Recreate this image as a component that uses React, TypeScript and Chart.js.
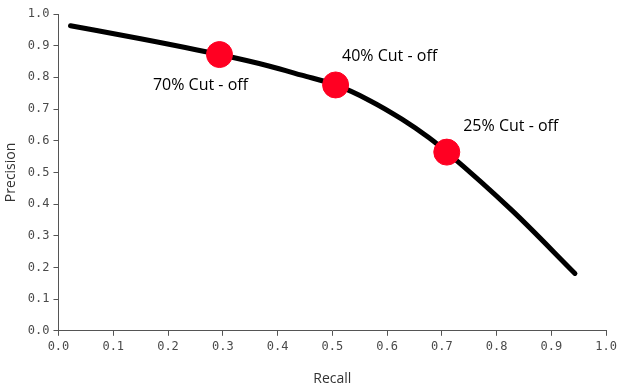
import React, { useEffect, useRef } from "react";
import { Chart, registerables } from "chart.js";

Chart.register(...registerables);

const curveRecall = [0.022, 0.15, 0.294, 0.384, 0.444, 0.506, 0.567, 0.627, 0.676, 0.709, 0.828, 0.943];
const curvePrecision = [0.963, 0.922, 0.872, 0.836, 0.807, 0.776, 0.728, 0.668, 0.61, 0.564, 0.38, 0.181];

const cutRecall = [0.294, 0.506, 0.709];
const cutPrecision = [0.872, 0.776, 0.564];
const cutLabels = ["70% Cut - off", "40% Cut - off", "25% Cut - off"];
const tickValues = [0, 0.1, 0.2, 0.3, 0.4, 0.5, 0.6, 0.7, 0.8, 0.9, 1.0];

const labelOffsets = [
  [-19, 31],
  [54, -29],
  [64, -26],
];

const cutLabelPlugin = {
  id: "cutLabels",
  afterDatasetsDraw(chart: any) {
    const { ctx, scales } = chart;
    ctx.save();
    ctx.font = '16px "Open Sans", "Noto Sans", sans-serif';
    ctx.fillStyle = "#000";
    ctx.textAlign = "center";
    ctx.textBaseline = "middle";
    cutLabels.forEach((t, i) => {
      const px = scales.x.getPixelForValue(cutRecall[i]);
      const py = scales.y.getPixelForValue(cutPrecision[i]);
      ctx.fillText(t, px + labelOffsets[i][0], py + labelOffsets[i][1]);
    });
    ctx.restore();
  },
};

export default function App() {
  const ref = useRef<HTMLCanvasElement>(null);
  useEffect(() => {
    const tickFont = { family: '"DejaVu Sans Mono", monospace', size: 12 };
    const chart = new Chart(ref.current!, {
      type: "scatter",
      data: {
        datasets: [
          {
            type: "scatter",
            data: cutRecall.map((x, i) => ({ x, y: cutPrecision[i] })),
            backgroundColor: "#ff0022",
            borderColor: "#ff0022",
            pointRadius: 13,
            pointHoverRadius: 13,
            order: 0,
          },
          {
            type: "line",
            data: curveRecall.map((x, i) => ({ x, y: curvePrecision[i] })),
            borderColor: "#000",
            borderWidth: 5,
            borderCapStyle: "round",
            cubicInterpolationMode: "monotone",
            pointRadius: 0,
            fill: false,
            order: 1,
          } as any,
        ],
      },
      options: {
        animation: false,
        responsive: true,
        maintainAspectRatio: false,
        layout: { padding: { top: 4, right: 9, left: 3, bottom: 5 } },
        plugins: { legend: { display: false }, tooltip: { enabled: false } },
        scales: {
          x: {
            type: "linear",
            min: 0,
            max: 1,
            afterBuildTicks: (s: any) => {
              s.ticks = tickValues.map((v) => ({ value: v }));
            },
            ticks: {
              font: tickFont,
              color: "#4a4a4a",
              padding: 4,
              callback: (v: any) => Number(v).toFixed(1),
              maxRotation: 0,
            },
            grid: { drawOnChartArea: false, drawTicks: true, tickLength: 5, color: "#555" },
            border: { color: "#555", width: 1 },
            title: {
              display: true,
              text: "Recall",
              font: { family: '"Open Sans", "Noto Sans", sans-serif', size: 14 },
              color: "#333",
              padding: { top: 12, bottom: 0 },
            },
          },
          y: {
            type: "linear",
            min: 0,
            max: 1,
            afterBuildTicks: (s: any) => {
              s.ticks = tickValues.map((v) => ({ value: v }));
            },
            ticks: {
              font: tickFont,
              color: "#4a4a4a",
              padding: 4,
              callback: (v: any) => Number(v).toFixed(1),
            },
            grid: { drawOnChartArea: false, drawTicks: true, tickLength: 5, color: "#555" },
            border: { color: "#555", width: 1 },
            title: {
              display: true,
              text: "Precision",
              font: { family: '"Open Sans", "Noto Sans", sans-serif', size: 14 },
              color: "#333",
              padding: { top: 0, bottom: 4 },
            },
          },
        },
      },
      plugins: [cutLabelPlugin],
    });
    return () => chart.destroy();
  }, []);
  return (
    <div style={{ position: "fixed", left: 0, top: 0, width: 621, height: 392 }}>
      <canvas ref={ref} />
    </div>
  );
}
